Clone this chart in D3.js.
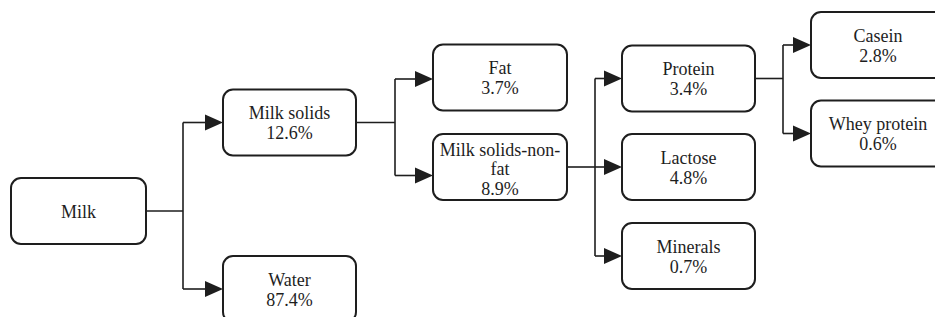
<!DOCTYPE html>
<html>
<head>
<meta charset="utf-8">
<script src="https://cdn.jsdelivr.net/npm/d3@7"></script>
<style>
  html, body { margin: 0; padding: 0; background: #fff; }
  svg { display: block; }
  svg text { font-family: 'Liberation Serif', 'Times New Roman', Times, serif; }
</style>
</head>
<body>
<svg id="chart" width="935" height="317"></svg>
<script>
// ---- data ----
const names    = ["Milk", "Milk solids", "Water", "Fat", "Milk solids-non-fat", "Protein", "Lactose", "Minerals", "Casein", "Whey protein"];
const percents = [null, 12.6, 87.4, 3.7, 8.9, 3.4, 4.8, 0.7, 2.8, 0.6];
const parents  = [null, "Milk", "Milk", "Milk solids", "Milk solids", "Milk solids-non-fat", "Milk solids-non-fat", "Milk solids-non-fat", "Protein", "Protein"];

// ---- layout (positions kept separate from data) ----
const colLeft  = d3.scaleOrdinal().domain([0, 1, 2, 3, 4]).range([11, 223, 433, 622, 811]);
const colWidth = d3.scaleOrdinal().domain([0, 1, 2, 3, 4]).range([135, 133, 134, 133, 134]);
const boxH = 66;
const centerY = {
  "Milk": 211, "Milk solids": 122.5, "Water": 289, "Fat": 77.5,
  "Milk solids-non-fat": 167, "Protein": 78.5, "Lactose": 167, "Minerals": 256,
  "Casein": 45, "Whey protein": 133.5
};
const inY = { "Fat": 79, "Milk solids-non-fat": 175.5 };
const branchGap = { 0: 37, 1: 39, 2: 28, 3: 28 };
const arrowLen = 18, arrowHalf = 8;
const ink = "#1e1e1e";
const fontStack = "'Liberation Serif', 'Times New Roman', Times, serif";

const table = names.map((n, i) => ({ id: n, parent: parents[i], pct: percents[i] }));
const root = d3.stratify().id(d => d.id).parentId(d => d.parent)(table);

const nodes = root.descendants();
nodes.forEach(n => {
  n.x0 = colLeft(n.depth);
  n.w = colWidth(n.depth);
  n.cy = centerY[n.id];
  n.y0 = n.cy - boxH / 2;
  n.inY = inY[n.id] !== undefined ? inY[n.id] : n.cy;
});

const svg = d3.select("#chart");
const gLinks = svg.append("g");
const gBoxes = svg.append("g");

// connectors
nodes.filter(n => n.children).forEach(p => {
  const bx = p.x0 + p.w + branchGap[p.depth];
  const ys = p.children.map(c => c.inY).concat([p.cy]);
  gLinks.append("line")
    .attr("x1", p.x0 + p.w).attr("y1", p.cy).attr("x2", bx).attr("y2", p.cy)
    .attr("stroke", ink).attr("stroke-width", 1.6);
  gLinks.append("line")
    .attr("x1", bx).attr("y1", d3.min(ys)).attr("x2", bx).attr("y2", d3.max(ys))
    .attr("stroke", ink).attr("stroke-width", 1.6);
  p.children.forEach(c => {
    const tip = c.x0;
    gLinks.append("line")
      .attr("x1", bx).attr("y1", c.inY).attr("x2", tip - arrowLen + 1).attr("y2", c.inY)
      .attr("stroke", ink).attr("stroke-width", 1.6);
    gLinks.append("path")
      .attr("d", `M${tip},${c.inY} L${tip - arrowLen},${c.inY - arrowHalf} L${tip - arrowLen},${c.inY + arrowHalf} Z`)
      .attr("fill", ink);
  });
});

// boxes
const box = gBoxes.selectAll("g.node").data(nodes).join("g").attr("class", "node");
box.append("rect")
  .attr("x", d => d.x0).attr("y", d => d.y0)
  .attr("width", d => d.w).attr("height", boxH)
  .attr("rx", 10).attr("ry", 10)
  .attr("fill", "#fff").attr("stroke", ink).attr("stroke-width", 2);

const fontSize = 18;
const ctx = document.createElement("canvas").getContext("2d");
ctx.font = `${fontSize}px ${fontStack}`;
function wrapLabel(label, maxW) {
  const parts = label.match(/[^\s-]+-?/g);
  const tokens = [];
  let rest = label;
  parts.forEach(p => {
    const idx = rest.indexOf(p);
    tokens.push({ text: p, space: idx > 0 });
    rest = rest.slice(idx + p.length);
  });
  const lines = [];
  let cur = "";
  tokens.forEach(t => {
    const cand = cur === "" ? t.text : cur + (t.space ? " " : "") + t.text;
    if (cur !== "" && ctx.measureText(cand).width > maxW) {
      lines.push(cur);
      cur = t.text;
    } else cur = cand;
  });
  if (cur) lines.push(cur);
  return lines;
}

box.each(function(d) {
  const lines = wrapLabel(d.id, d.w - 6);
  if (d.data.pct !== null) lines.push(d3.format(".1f")(d.data.pct) + "%");
  const lh = lines.length > 2 ? 19.5 : 20;
  const t = d3.select(this).append("text")
    .attr("text-anchor", "middle")
    .style("font-family", fontStack)
    .style("font-size", fontSize + "px")
    .attr("fill", ink);
  const first = d.cy + (lines.length > 2 ? 8 : 6.5) - (lines.length - 1) * lh / 2;
  lines.forEach((l, i) => {
    t.append("tspan").attr("x", d.x0 + d.w / 2).attr("y", first + i * lh).text(l);
  });
});
</script>
</body>
</html>
